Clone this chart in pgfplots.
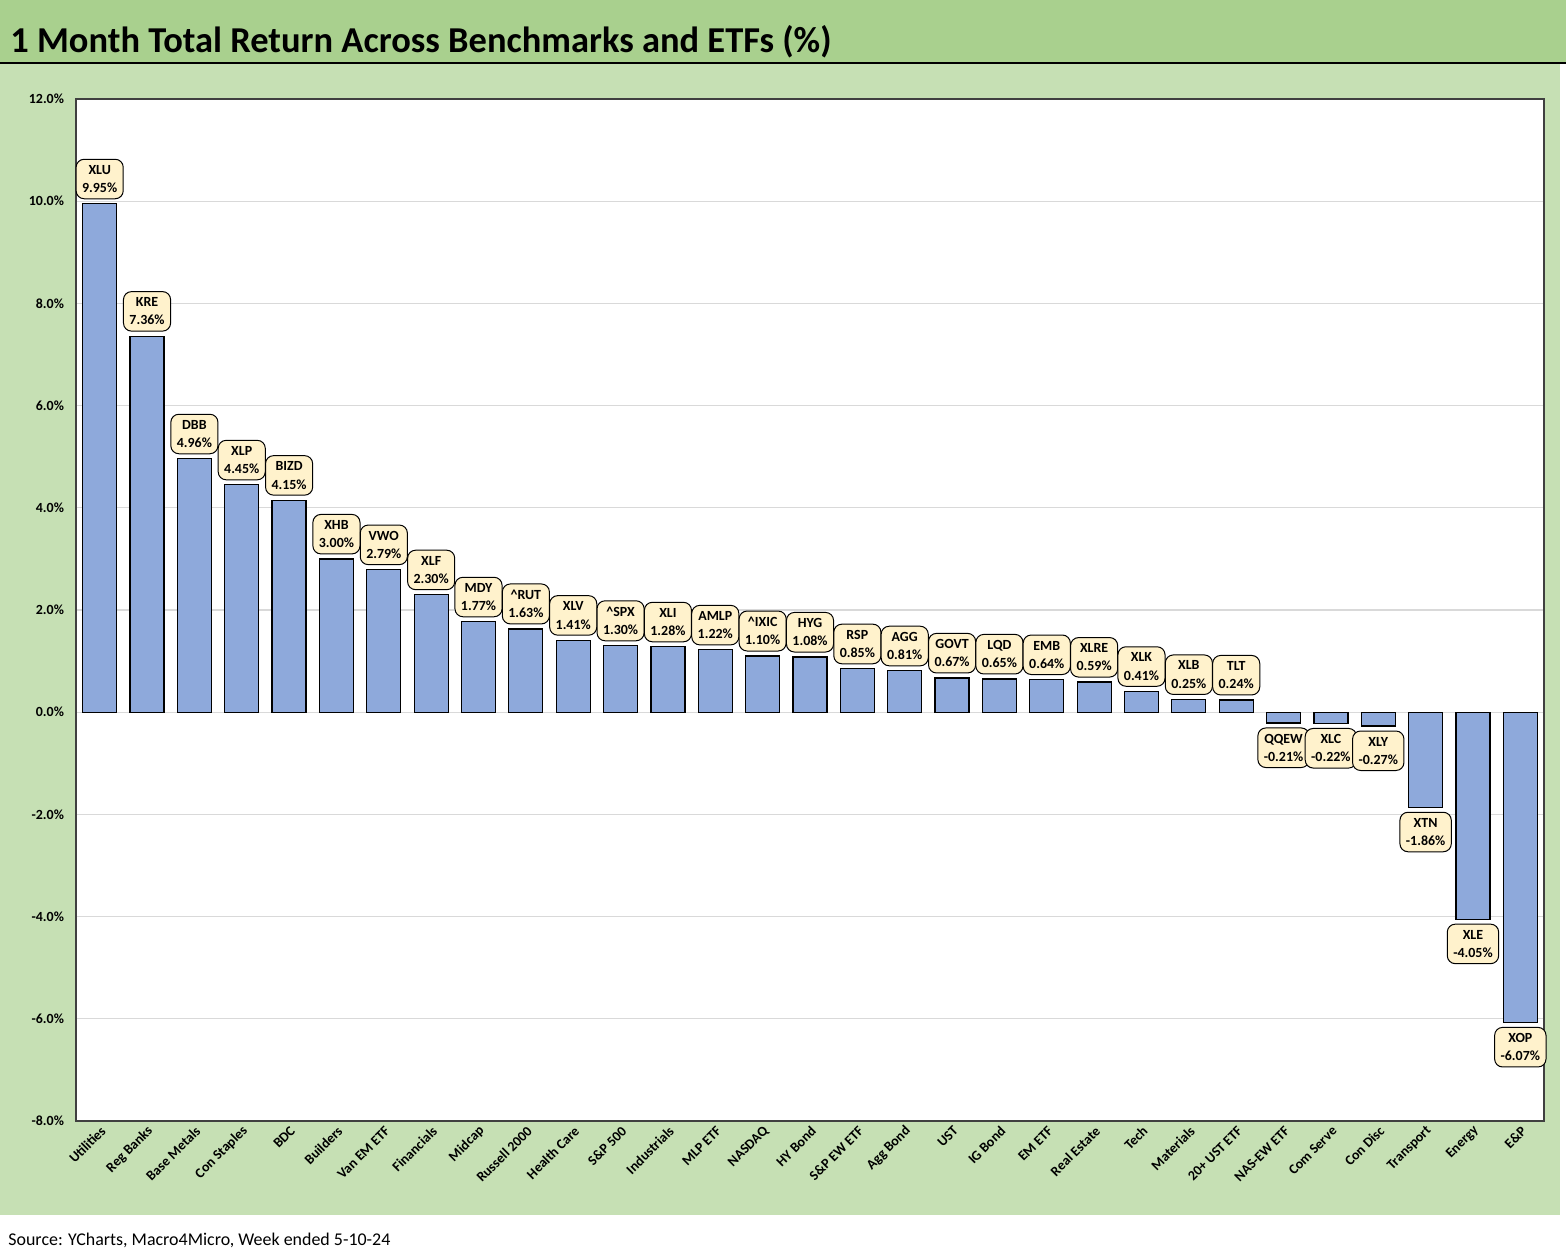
\documentclass[border=0pt]{standalone}
\usepackage{fontspec}
\setmainfont{Carlito}
\usepackage{pgfplots}
\pgfplotsset{compat=1.18}
\definecolor{titlegreen}{HTML}{A9D08E}
\definecolor{bodygreen}{HTML}{C6E0B4}
\definecolor{barblue}{HTML}{8EA9DB}
\definecolor{labelfill}{HTML}{FFF2CC}
\definecolor{gridgray}{HTML}{D9D9D9}

\begin{document}
\begin{tikzpicture}
\useasboundingbox (0,0) rectangle (783bp,-628bp);
\fill[white] (0,0) rectangle (783bp,-628bp);
\fill[titlegreen] (0,0) rectangle (783bp,-31bp);
\fill[bodygreen] (0,-31bp) rectangle (780bp,-607.5bp);
\draw[black,line width=1bp] (0,-31.5bp) -- (783bp,-31.5bp);
\node[anchor=base west,font=\bfseries\fontsize{18.3}{20}\selectfont,inner sep=0] at (5bp,-26bp)
  {1 Month Total Return Across Benchmarks and ETFs (\%)};
\node[anchor=base west,font=\fontsize{9}{10}\selectfont,inner sep=0] at (4bp,-622.5bp)
  {Source: YCharts, Macro4Micro, Week ended 5-10-24};

\begin{axis}[
    at={(38bp,-560.5bp)}, anchor=south west,
    scale only axis, width=734bp, height=511bp,
    ybar, bar width=17bp, bar shift=0pt,
    xmin=-0.5, xmax=30.5, ymin=-8, ymax=12,
    ytick={-8,-6,...,12},
    xtick={0,...,30},
    xticklabels={Utilities,Reg Banks,Base Metals,Con Staples,BDC,Builders,Van EM ETF,Financials,Midcap,Russell 2000,Health Care,S\&P 500,Industrials,MLP ETF,NASDAQ,HY Bond,S\&P EW ETF,Agg Bond,UST,IG Bond,EM ETF,Real Estate,Tech,Materials,20+ UST ETF,NAS-EW ETF,Com Serve,Con Disc,Transport,Energy,E\&P},
    ymajorgrids, grid style={draw=gridgray, line width=0.6bp},
    axis line style={draw=black!75, line width=0.6bp},
    axis background/.style={fill=white},
    major tick length=0pt,
    /pgf/number format/assume math mode=true,
    tick label style={font=\bfseries\fontsize{7}{8}\selectfont},
    yticklabel={\pgfmathprintnumber[fixed,fixed zerofill,precision=1]{\tick}\%},
    yticklabel style={xshift=-2.5bp},
    xticklabel style={rotate=45, anchor=east, yshift=-4bp, xshift=2bp},
    point meta=explicit symbolic,
    nodes near coords,
    every node near coord/.append style={
        fill=labelfill, draw=black, line width=0.5bp, rounded corners=4bp,
        align=center, inner xsep=3bp, inner ysep=3bp, outer sep=2.5bp,
        font=\bfseries\fontsize{7}{9.2}\selectfont},
]
\addplot[fill=barblue, draw=black, line width=0.6bp,
         every node near coord/.append style={anchor=south}] coordinates {
(0,9.95) [XLU\\9.95\%]
(1,7.36) [KRE\\7.36\%]
(2,4.96) [DBB\\4.96\%]
(3,4.45) [XLP\\4.45\%]
(4,4.15) [BIZD\\4.15\%]
(5,3.00) [XHB\\3.00\%]
(6,2.79) [VWO\\2.79\%]
(7,2.30) [XLF\\2.30\%]
(8,1.77) [MDY\\1.77\%]
(9,1.63) [\textasciicircum RUT\\1.63\%]
(10,1.41) [XLV\\1.41\%]
(11,1.30) [\textasciicircum SPX\\1.30\%]
(12,1.28) [XLI\\1.28\%]
(13,1.22) [AMLP\\1.22\%]
(14,1.10) [\textasciicircum IXIC\\1.10\%]
(15,1.08) [HYG\\1.08\%]
(16,0.85) [RSP\\0.85\%]
(17,0.81) [AGG\\0.81\%]
(18,0.67) [GOVT\\0.67\%]
(19,0.65) [LQD\\0.65\%]
(20,0.64) [EMB\\0.64\%]
(21,0.59) [XLRE\\0.59\%]
(22,0.41) [XLK\\0.41\%]
(23,0.25) [XLB\\0.25\%]
(24,0.24) [TLT\\0.24\%]
};
\addplot[fill=barblue, draw=black, line width=0.6bp,
         every node near coord/.append style={anchor=north}] coordinates {
(25,-0.21) [QQEW\\-0.21\%]
(26,-0.22) [XLC\\-0.22\%]
(27,-0.27) [XLY\\-0.27\%]
(28,-1.86) [XTN\\-1.86\%]
(29,-4.05) [XLE\\-4.05\%]
(30,-6.07) [XOP\\-6.07\%]
};
\end{axis}
\end{tikzpicture}
\end{document}
